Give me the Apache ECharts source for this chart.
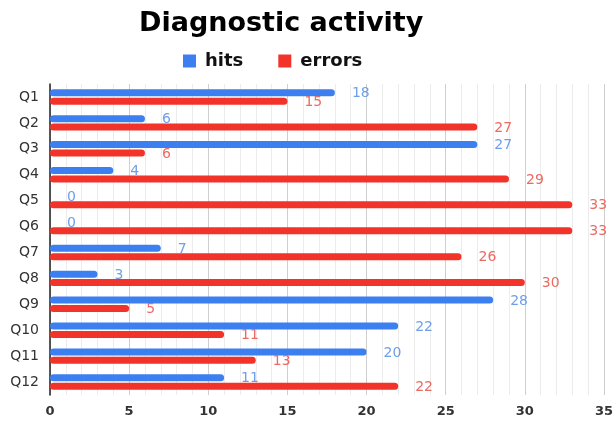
<!DOCTYPE html>
<html><head><meta charset="utf-8">
<script src="https://cdn.jsdelivr.net/npm/echarts@6/dist/echarts.min.js"></script>
<style>html,body{margin:0;padding:0;background:#fff}#c{width:616px;height:424px}</style>
</head><body><div id="c"></div>
<script>
const categories = ['Q1','Q2','Q3','Q4','Q5','Q6','Q7','Q8','Q9','Q10','Q11','Q12'];
const hits = [18,6,27,4,0,0,7,3,28,22,20,11];
const errors = [15,27,6,29,33,33,26,30,5,11,13,22];
const xTicks = [0,5,10,15,20,25,30,35];

const chart = echarts.init(document.getElementById('c'), null, {renderer:'canvas'});
const lbl = (c) => ({show:true, position:'right', distance:17, color:c, fontSize:14, fontFamily:'DejaVu Sans', fontWeight:'normal', offset:[0,1]});
chart.setOption({
  animation:false,
  backgroundColor:'#fff',
  title:{text:'Diagnostic activity', left:134, top:5,
    textStyle:{fontFamily:'DejaVu Sans', fontWeight:'bold', fontSize:27, color:'#000'}},
  legend:{top:47, left:178, itemWidth:13, itemHeight:13, itemGap:35, icon:'rect',
    textStyle:{fontFamily:'DejaVu Sans', fontWeight:'bold', fontSize:18, color:'#111', padding:[0,0,0,4]},
    data:['hits','errors']},
  grid:{left:50, right:10, top:84, bottom:29},
  xAxis:{type:'value', min:xTicks[0], max:xTicks[xTicks.length-1], interval:5,
    axisLine:{show:false}, axisTick:{show:false},
    axisLabel:{color:'#333', fontSize:13, fontFamily:'DejaVu Sans', fontWeight:'bold', margin:10},
    splitLine:{show:true, lineStyle:{color:'#cfcfcf', width:1}},
    minorTick:{show:false, splitNumber:5},
    minorSplitLine:{show:true, lineStyle:{color:'#ececec', width:1}}},
  yAxis:{type:'category', data:categories, inverse:true,
    axisLine:{show:true, lineStyle:{color:'#222', width:1.5}}, axisTick:{show:false},
    axisLabel:{color:'#333', fontSize:14, fontFamily:'DejaVu Sans', margin:11}},
  series:[
    {name:'hits', type:'bar', data:hits, barWidth:7, barGap:'20%',
      itemStyle:{color:'#3c7ff0', borderRadius:4}, label:lbl('#6f9fe8')},
    {name:'errors', type:'bar', data:errors, barWidth:7,
      itemStyle:{color:'#f2332a', borderRadius:4}, label:lbl('#ec6a62')}
  ]
});
</script></body></html>
